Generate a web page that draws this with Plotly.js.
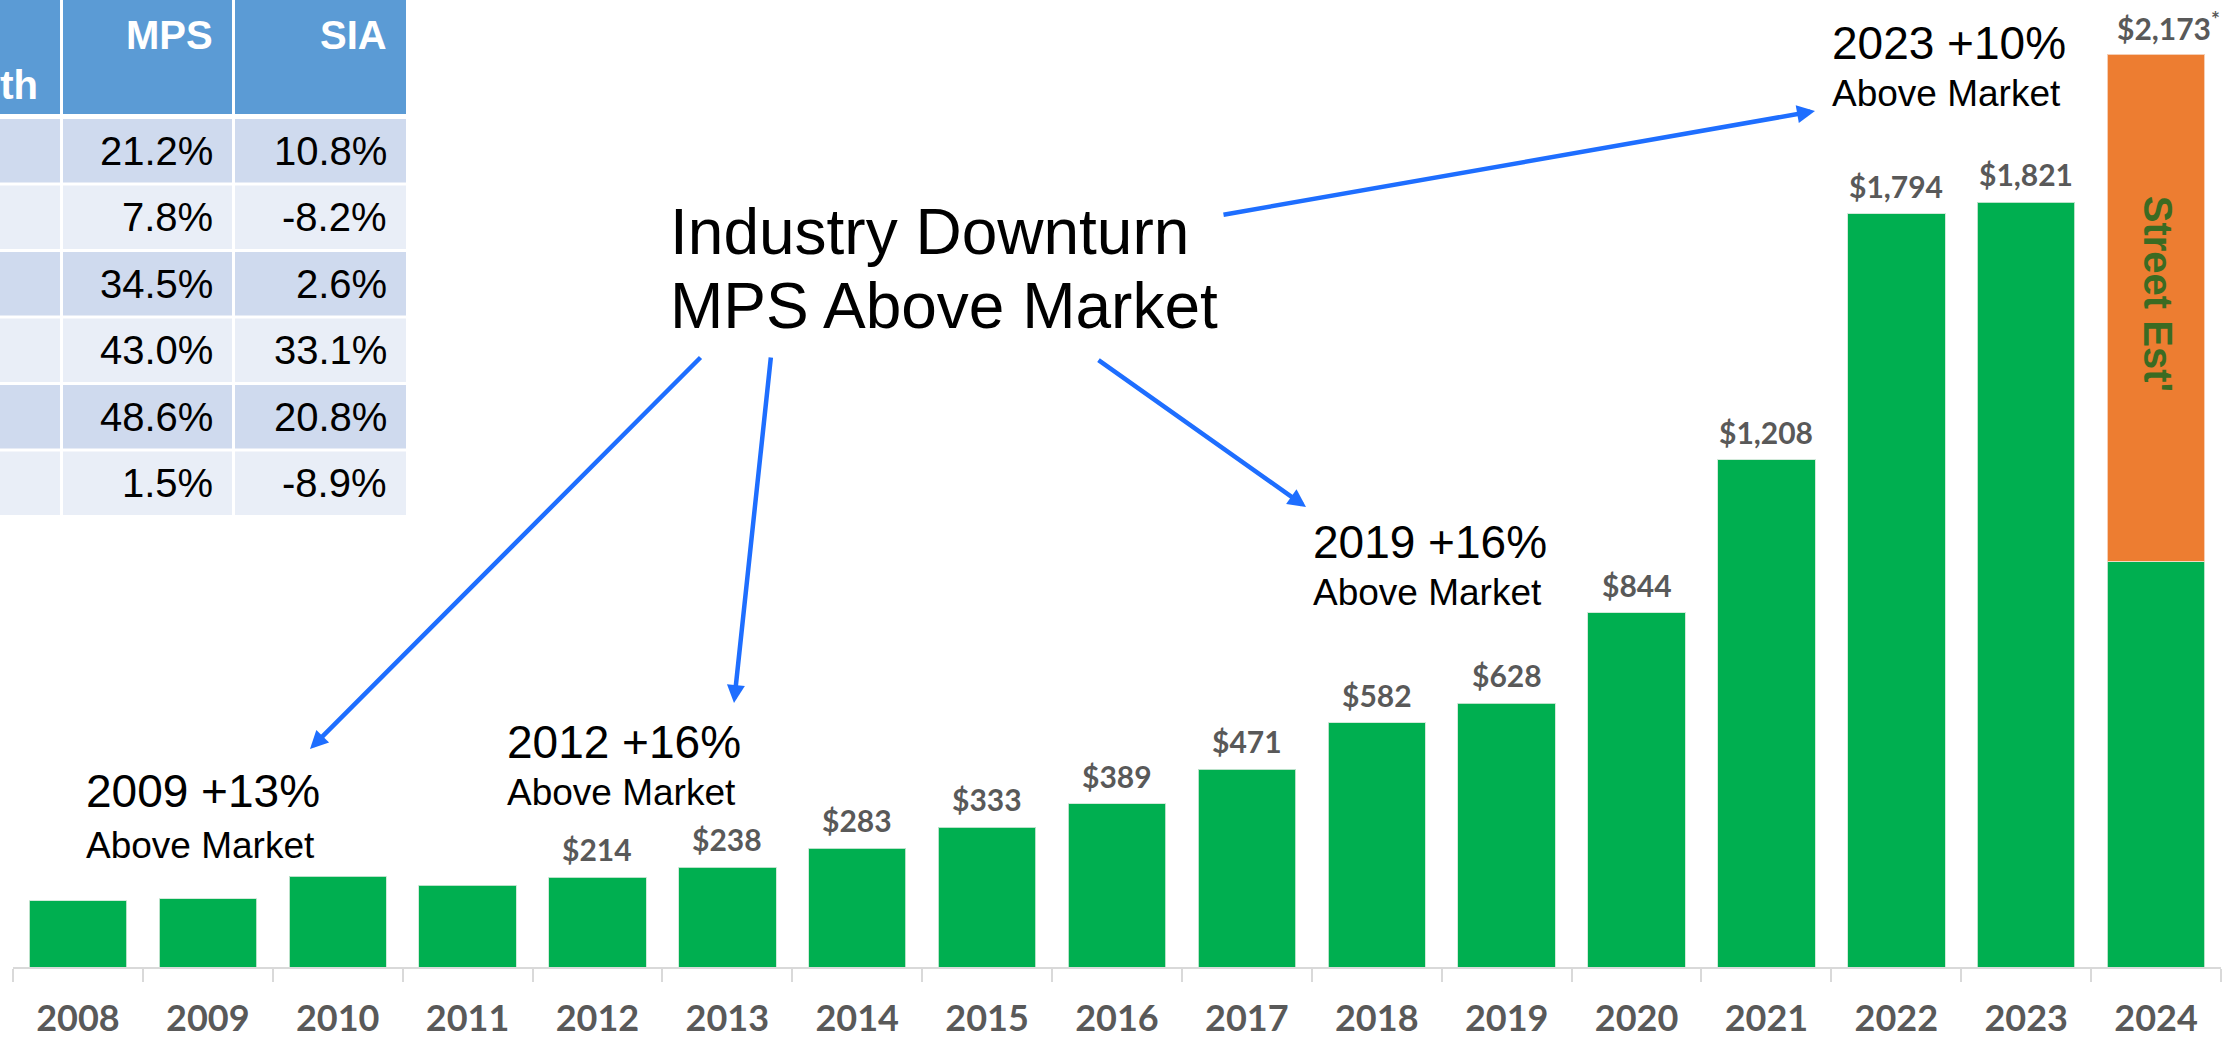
<!DOCTYPE html>
<html>
<head>
<meta charset="utf-8">
<script src="https://cdn.plot.ly/plotly-3.0.1.min.js"></script>
<style>
  html, body { margin: 0; padding: 0; background: #ffffff; }
  #chart { width: 2228px; height: 1046px; }
</style>
</head>
<body>
<div id="chart"></div>
<script>
// ---------------- data ----------------
const years = ['2008','2009','2010','2011','2012','2013','2014','2015','2016','2017','2018','2019','2020','2021','2022','2023','2024'];
const revenue = [158, 162, 216, 195, 214, 238, 283, 333, 389, 471, 582, 628, 844, 1208, 1794, 1821, 966];
const streetEst = [null, null, null, null, null, null, null, null, null, null, null, null, null, null, null, null, 1207];
const valueLabels = ['', '', '', '', '$214', '$238', '$283', '$333', '$389', '$471', '$582', '$628', '$844', '$1,208', '$1,794', '$1,821', '$2,173<sup>*</sup>'];
const streetLabel = "Street Est'";

const tableHeader = ['Growth', 'MPS', 'SIA'];
const mpsGrowth = ['21.2%', '7.8%', '34.5%', '43.0%', '48.6%', '1.5%'];
const siaGrowth = ['10.8%', '-8.2%', '2.6%', '33.1%', '20.8%', '-8.9%'];

const callouts = [
  {big: '2009 +13%', small: 'Above Market'},
  {big: '2012 +16%', small: 'Above Market'},
  {big: '2019 +16%', small: 'Above Market'},
  {big: '2023 +10%', small: 'Above Market'}
];
const mainNote = ['Industry Downturn', 'MPS Above Market'];

// ---------------- layout geometry ----------------
const FIG_W = 2228, FIG_H = 1046;
const M = {l: 13, r: 7, t: 20, b: 79};
const PW = FIG_W - M.l - M.r;
const PH = FIG_H - M.t - M.b;
const PB = M.t + PH;               // plot bottom in pixels
const PX_PER_UNIT = 0.42;
const yMax = PH / PX_PER_UNIT;

const px = v => (v - M.l) / PW;     // pixel x -> paper x
const py = v => (PB - v) / PH;      // pixel y -> paper y

const GREEN = '#00AF50';
const ORANGE = '#ED7D31';
const LABEL_GREY = '#595959';
const AXIS_GREY = '#d9d9d9';
const ARROW_BLUE = '#1E6EFF';
const ARIAL = 'Arial, "Liberation Sans", sans-serif';
const CAL = 'Lato, Carlito, Calibri, sans-serif';

const totals = revenue.map((v, i) => v + (streetEst[i] || 0));

// ---------------- traces ----------------
const traces = [
  {
    type: 'bar', x: years, y: revenue, name: 'Revenue',
    marker: {color: GREEN, line: {color: 'rgba(205,232,214,0.9)', width: 1}},
    hoverinfo: 'x+y'
  },
  {
    type: 'bar', x: years, y: streetEst, name: 'Street Est',
    marker: {color: ORANGE, line: {color: 'rgba(245,215,195,0.9)', width: 1}},
    hoverinfo: 'x+y'
  }
];

// ---------------- annotations ----------------
const annotations = [];

// value labels above bars (x given as category index)
valueLabels.forEach((lab, i) => {
  if (!lab) return;
  annotations.push({
    x: i, y: totals[i], xref: 'x', yref: 'y',
    text: lab, showarrow: false, yanchor: 'middle', xanchor: 'center',
    yshift: 28, xshift: (i === years.length - 1) ? 12 : 0,
    font: {family: CAL, size: 30, color: LABEL_GREY, weight: 'bold'}
  });
});

// Street Est' vertical label inside the orange segment
{
  const i = years.length - 1;
  annotations.push({
    x: i, y: revenue[i] + streetEst[i] / 2, xref: 'x', yref: 'y',
    text: streetLabel, showarrow: false, textangle: 90,
    xanchor: 'center', yanchor: 'middle', yshift: 14, xshift: 2,
    font: {family: ARIAL, size: 40, color: '#3B6B22', weight: 'bold'}
  });
}

// Main note text
const mainPos = [{x: 668, y: 231.5}, {x: 668, y: 305.5}];
mainNote.forEach((t, k) => {
  annotations.push({
    x: px(mainPos[k].x), y: py(mainPos[k].y), xref: 'paper', yref: 'paper',
    text: t, showarrow: false, xanchor: 'left', yanchor: 'middle',
    font: {family: ARIAL, size: 64, color: '#000000'}
  });
});

// Callout texts
const calloutPos = [
  {x: 84, yb: 791, ys: 845.5},
  {x: 505, yb: 742, ys: 792},
  {x: 1311, yb: 542, ys: 592},
  {x: 1830, yb: 42.5, ys: 94}
];
callouts.forEach((c, k) => {
  const p = calloutPos[k];
  annotations.push({
    x: px(p.x), y: py(p.yb), xref: 'paper', yref: 'paper',
    text: c.big, showarrow: false, xanchor: 'left', yanchor: 'middle',
    font: {family: ARIAL, size: 46, color: '#000000'}
  });
  annotations.push({
    x: px(p.x), y: py(p.ys), xref: 'paper', yref: 'paper',
    text: c.small, showarrow: false, xanchor: 'left', yanchor: 'middle',
    font: {family: ARIAL, size: 37, color: '#000000'}
  });
});

// Arrows (tip, tail) in pixels
const arrows = [
  {tip: [310, 749], tail: [702, 356]},
  {tip: [734, 703], tail: [771, 356]},
  {tip: [1306, 507], tail: [1097, 359]},
  {tip: [1815, 111], tail: [1222, 215]}
];
arrows.forEach(a => {
  annotations.push({
    x: px(a.tip[0]), y: py(a.tip[1]), xref: 'paper', yref: 'paper',
    ax: a.tail[0] - a.tip[0], ay: a.tail[1] - a.tip[1], axref: 'pixel', ayref: 'pixel',
    text: '', showarrow: true, arrowhead: 2, arrowsize: 0.8, arrowwidth: 4.5,
    arrowcolor: ARROW_BLUE, standoff: 0, startstandoff: 0
  });
});

// ---------------- table (shapes + text) ----------------
const shapes = [];
const colX = [[-10, 60], [63, 232], [235, 406]];
const headerY = [0, 114];
const rowTop0 = 119, rowStep = 66.5, rowH = 63.5;
const HEADER_BLUE = '#5B9BD5';
const BAND1 = '#CFDAEE', BAND2 = '#E9EEF7';

colX.forEach(c => {
  shapes.push({type: 'rect', xref: 'paper', yref: 'paper',
    x0: px(c[0]), x1: px(c[1]), y0: py(headerY[0]), y1: py(headerY[1]),
    fillcolor: HEADER_BLUE, line: {width: 0}, layer: 'below'});
});
mpsGrowth.forEach((v, r) => {
  const top = rowTop0 + r * rowStep;
  colX.forEach(c => {
    shapes.push({type: 'rect', xref: 'paper', yref: 'paper',
      x0: px(c[0]), x1: px(c[1]), y0: py(top), y1: py(top + rowH),
      fillcolor: (r % 2 === 0) ? BAND1 : BAND2, line: {width: 0}, layer: 'below'});
  });
  const cy = top + rowH / 2;
  annotations.push({x: px(215), y: py(cy), xref: 'paper', yref: 'paper', text: mpsGrowth[r],
    showarrow: false, xanchor: 'right', yanchor: 'middle',
    font: {family: ARIAL, size: 40, color: '#000000'}});
  annotations.push({x: px(389), y: py(cy), xref: 'paper', yref: 'paper', text: siaGrowth[r],
    showarrow: false, xanchor: 'right', yanchor: 'middle',
    font: {family: ARIAL, size: 40, color: '#000000'}});
});
// header texts
annotations.push({x: px(40), y: py(85), xref: 'paper', yref: 'paper', text: tableHeader[0],
  showarrow: false, xanchor: 'right', yanchor: 'middle',
  font: {family: ARIAL, size: 40, color: '#ffffff', weight: 'bold'}});
annotations.push({x: px(215), y: py(35), xref: 'paper', yref: 'paper', text: tableHeader[1],
  showarrow: false, xanchor: 'right', yanchor: 'middle',
  font: {family: ARIAL, size: 40, color: '#ffffff', weight: 'bold'}});
annotations.push({x: px(389), y: py(35), xref: 'paper', yref: 'paper', text: tableHeader[2],
  showarrow: false, xanchor: 'right', yanchor: 'middle',
  font: {family: ARIAL, size: 40, color: '#ffffff', weight: 'bold'}});

// ---------------- layout ----------------
const layout = {
  width: FIG_W, height: FIG_H,
  margin: M,
  paper_bgcolor: '#ffffff', plot_bgcolor: '#ffffff',
  showlegend: false,
  barmode: 'stack', bargap: 0.25,
  xaxis: {
    type: 'category', categoryorder: 'array', categoryarray: years,
    range: [-0.5, years.length - 0.5],
    tickson: 'boundaries', ticks: 'outside', ticklen: 13, tickwidth: 2, tickcolor: AXIS_GREY,
    showline: true, linecolor: AXIS_GREY, linewidth: 2,
    showgrid: false, zeroline: false,
    ticklabelstandoff: 19,
    tickfont: {family: CAL, size: 36, color: LABEL_GREY, weight: 'bold'},
    fixedrange: true
  },
  yaxis: {
    range: [0, yMax], visible: false, showgrid: false, zeroline: false, fixedrange: true
  },
  shapes: shapes,
  annotations: annotations
};

Plotly.newPlot('chart', traces, layout, {displayModeBar: false, staticPlot: true});
</script>
</body>
</html>
